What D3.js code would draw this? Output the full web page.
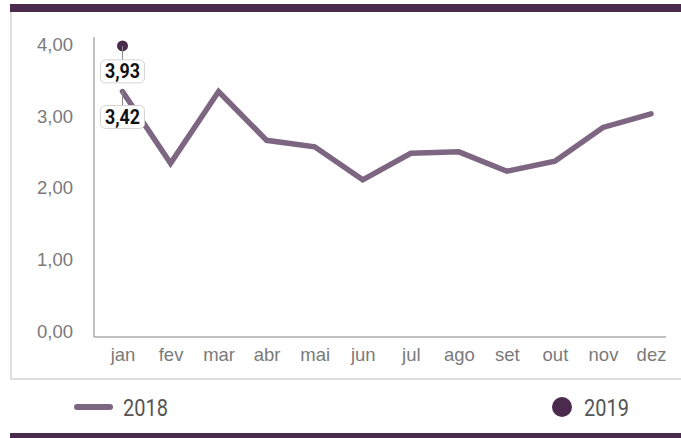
<!DOCTYPE html>
<html>
<head>
<meta charset="utf-8">
<script src="https://cdn.jsdelivr.net/npm/d3@7/dist/d3.min.js"></script>
<style>
  html, body { margin: 0; padding: 0; background: #fff; }
  svg { display: block; font-family: Roboto, "Liberation Sans", sans-serif; }
</style>
</head>
<body>
<svg id="chart" width="681" height="438"></svg>
<script>
// Monthly values, 2018 full year and the single 2019 reading
const months = ["jan", "fev", "mar", "abr", "mai", "jun", "jul", "ago", "set", "out", "nov", "dez"];
const values2018 = [3.42, 2.42, 3.42, 2.74, 2.65, 2.19, 2.56, 2.58, 2.31, 2.45, 2.92, 3.11];
const values2019 = [3.93];
const yTicks = [0, 1, 2, 3, 4];
const legendLabels = ["2018", "2019"];

const W = 681, H = 438;
const plot = { left: 94, right: 666, top: 37, bottom: 337 };
const fmt = v => d3.format(".2f")(v).replace(".", ",");
const condensed = 0.85; // horizontal squeeze for the narrow label face

const svg = d3.select("#chart");

// frame: dark bars top and bottom, light border left and bottom
svg.append("rect").attr("x", 10).attr("y", 4).attr("width", W - 10).attr("height", 8).attr("fill", "#4a2b4d");
svg.append("rect").attr("x", 10).attr("y", 433).attr("width", W - 10).attr("height", 5).attr("fill", "#4a2b4d");
svg.append("path").attr("d", `M11,12 V379 H${W}`).attr("fill", "none").attr("stroke", "#dedede").attr("stroke-width", 2);

const x = d3.scalePoint().domain(months).range([122.5, 651]);
const y = d3.scaleLinear().domain([0, 4.18]).range([plot.bottom, plot.top]);
// the 2019 series sits on its own (hidden) value axis
const y2019 = d3.scaleLinear().domain([0, 4.05]).range([plot.bottom, plot.top]);

// y axis
const yAxis = svg.append("g").attr("transform", `translate(${plot.left},0)`)
  .call(d3.axisLeft(y).tickValues(yTicks).tickSize(0).tickPadding(21).tickFormat(fmt));
yAxis.select(".domain").remove();
yAxis.selectAll("text").attr("fill", "#7a7a7a").attr("font-size", 18.5).attr("font-weight", 300).attr("dy", "0.02em");

svg.append("line").attr("x1", plot.left).attr("x2", plot.left).attr("y1", plot.top).attr("y2", plot.bottom)
  .attr("stroke", "#adadad").attr("stroke-width", 1.5);
svg.append("line").attr("x1", plot.left).attr("x2", plot.right).attr("y1", plot.bottom).attr("y2", plot.bottom)
  .attr("stroke", "#adadad").attr("stroke-width", 1.5);

// x axis labels
const xAxis = svg.append("g").attr("transform", `translate(0,${plot.bottom})`)
  .call(d3.axisBottom(x).tickSize(0).tickPadding(11));
xAxis.select(".domain").remove();
xAxis.selectAll("text").attr("fill", "#7a7a7a").attr("font-size", 18.5).attr("font-weight", 300);

// 2018 line
const line = d3.line().x((d, i) => x(months[i])).y(d => y(d));
svg.append("path").datum(values2018)
  .attr("d", line).attr("fill", "none").attr("stroke", "#7d6681")
  .attr("stroke-width", 5.5).attr("stroke-linejoin", "miter").attr("stroke-linecap", "round");

// 2019 dot
svg.selectAll("circle.v2019").data(values2019).enter().append("circle")
  .attr("class", "v2019")
  .attr("cx", (d, i) => x(months[i])).attr("cy", d => y2019(d)).attr("r", 5.5)
  .attr("fill", "#4a2b4d");

// value callouts below the january points
function callout(px, py, v) {
  const g = svg.append("g");
  const top = py + 14;
  g.append("line").attr("x1", px).attr("x2", px).attr("y1", py).attr("y2", top)
    .attr("stroke", "#8a8a8a").attr("stroke-width", 1);
  const t = g.append("text")
    .attr("transform", `translate(${px},${top + 18.5}) scale(${condensed},1)`)
    .attr("text-anchor", "middle")
    .attr("font-size", 21).attr("font-weight", "bold").attr("fill", "#111").text(fmt(v));
  const bw = t.node().getComputedTextLength() * condensed + 9;
  g.insert("rect", "text").attr("x", px - bw / 2).attr("y", top).attr("width", bw).attr("height", 23)
    .attr("rx", 5).attr("fill", "#fff").attr("stroke", "#d4d4d4").attr("stroke-width", 1);
}
callout(x(months[0]), y2019(values2019[0]), values2019[0]);
callout(x(months[0]), y(values2018[0]), values2018[0]);

// legend
svg.append("line").attr("x1", 77).attr("x2", 110).attr("y1", 407).attr("y2", 407)
  .attr("stroke", "#7d6681").attr("stroke-width", 6).attr("stroke-linecap", "round");
svg.append("text").attr("transform", `translate(123,415.5) scale(${condensed},1)`)
  .attr("font-size", 23.5).attr("fill", "#555").text(legendLabels[0]);
svg.append("circle").attr("cx", 562).attr("cy", 407).attr("r", 10).attr("fill", "#4a2b4d");
svg.append("text").attr("transform", `translate(584,415.5) scale(${condensed},1)`)
  .attr("font-size", 23.5).attr("fill", "#555").text(legendLabels[1]);
</script>
</body>
</html>
